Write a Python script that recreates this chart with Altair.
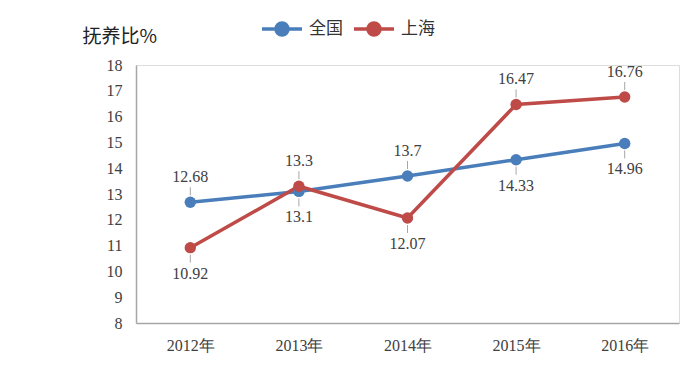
import altair as alt
import pandas as pd

years = ["2012年", "2013年", "2014年", "2015年", "2016年"]
national = [12.68, 13.1, 13.7, 14.33, 14.96]
shanghai = [10.92, 13.3, 12.07, 16.47, 16.76]
national_label_pos = ["above", "below", "above", "below", "below"]
shanghai_label_pos = ["below", "above", "below", "above", "above"]
series_names = ["全国", "上海"]
colors = ["#4A7EBB", "#BE4B48"]

rows = []
for name, vals, pos in [("全国", national, national_label_pos), ("上海", shanghai, shanghai_label_pos)]:
    for y, v, p in zip(years, vals, pos):
        rows.append({"year": y, "value": v, "series": name, "pos": p, "label": str(v)})
df = pd.DataFrame(rows)

x = alt.X("year:N", sort=years, scale=alt.Scale(type="point", padding=0.5),
          axis=alt.Axis(title=None, labelAngle=0, ticks=False, domainColor="#A6A6A6",
                        domainWidth=1.5, labelFont="Liberation Serif", labelFontSize=16,
                        labelColor="#404040", labelPadding=14, grid=False))
y = alt.Y("value:Q", scale=alt.Scale(domain=[8, 18], nice=False, zero=False),
          axis=alt.Axis(title="抚养比%", titleAngle=0, titleAlign="left", titleX=-54, titleY=-23,
                        titleBaseline="alphabetic", titleFont="Noto Sans CJK SC", titleFontSize=19,
                        titleFontWeight="normal", titleColor="#222222",
                        values=list(range(8, 19)), ticks=False, grid=False,
                        domainColor="#A6A6A6", domainWidth=1.5, labelFont="Liberation Serif",
                        labelFontSize=16, labelColor="#404040", labelPadding=14))

legend_path = "M-0.8,0H0.8M0.24,0A0.24,0.24,0,1,1,-0.24,0A0.24,0.24,0,1,1,0.24,0"
legend = alt.Legend(title=None, orient="none", direction="horizontal",
                    legendX=119, legendY=-63, symbolType=legend_path,
                    symbolSize=2500, symbolStrokeWidth=3.5,
                    labelFont="Noto Sans CJK SC", labelFontSize=17,
                    labelColor="#333333", columnPadding=4, labelOffset=0)
color = alt.Color("series:N", sort=series_names,
                  scale=alt.Scale(domain=series_names, range=colors), legend=legend)

base = alt.Chart(df)

lines = base.mark_line(strokeWidth=3.5).encode(x=x, y=y, color=color, detail="series:N")
points = base.mark_point(filled=True, size=130, opacity=1, strokeWidth=3).encode(
    x=x, y=y, color=color)

above = base.transform_filter(alt.datum.pos == "above")
below = base.transform_filter(alt.datum.pos == "below")

text_above = above.mark_text(font="Liberation Serif", fontSize=16, color="#404040",
                             baseline="middle", dy=-25).encode(x=x, y=y, text="label:N")
text_below = below.mark_text(font="Liberation Serif", fontSize=16, color="#404040",
                             baseline="middle", dy=26).encode(x=x, y=y, text="label:N")
lead_above = above.mark_rule(color="#A6A6A6", strokeWidth=1, yOffset=-7, y2Offset=-15).encode(
    x=x, y=y, y2="value:Q")
lead_below = below.mark_rule(color="#A6A6A6", strokeWidth=1, yOffset=7, y2Offset=15).encode(
    x=x, y=y, y2="value:Q")

chart = alt.layer(lead_above, lead_below, lines, points, text_above, text_below).properties(
    width=543, height=258,
    autosize=alt.AutoSizeParams(type="none"),
    padding={"left": 128, "top": 57, "right": 13, "bottom": 35},
).configure_view(stroke=None).configure(background="white")

chart.save("out.html", embed_options={"renderer": "svg", "actions": False})
